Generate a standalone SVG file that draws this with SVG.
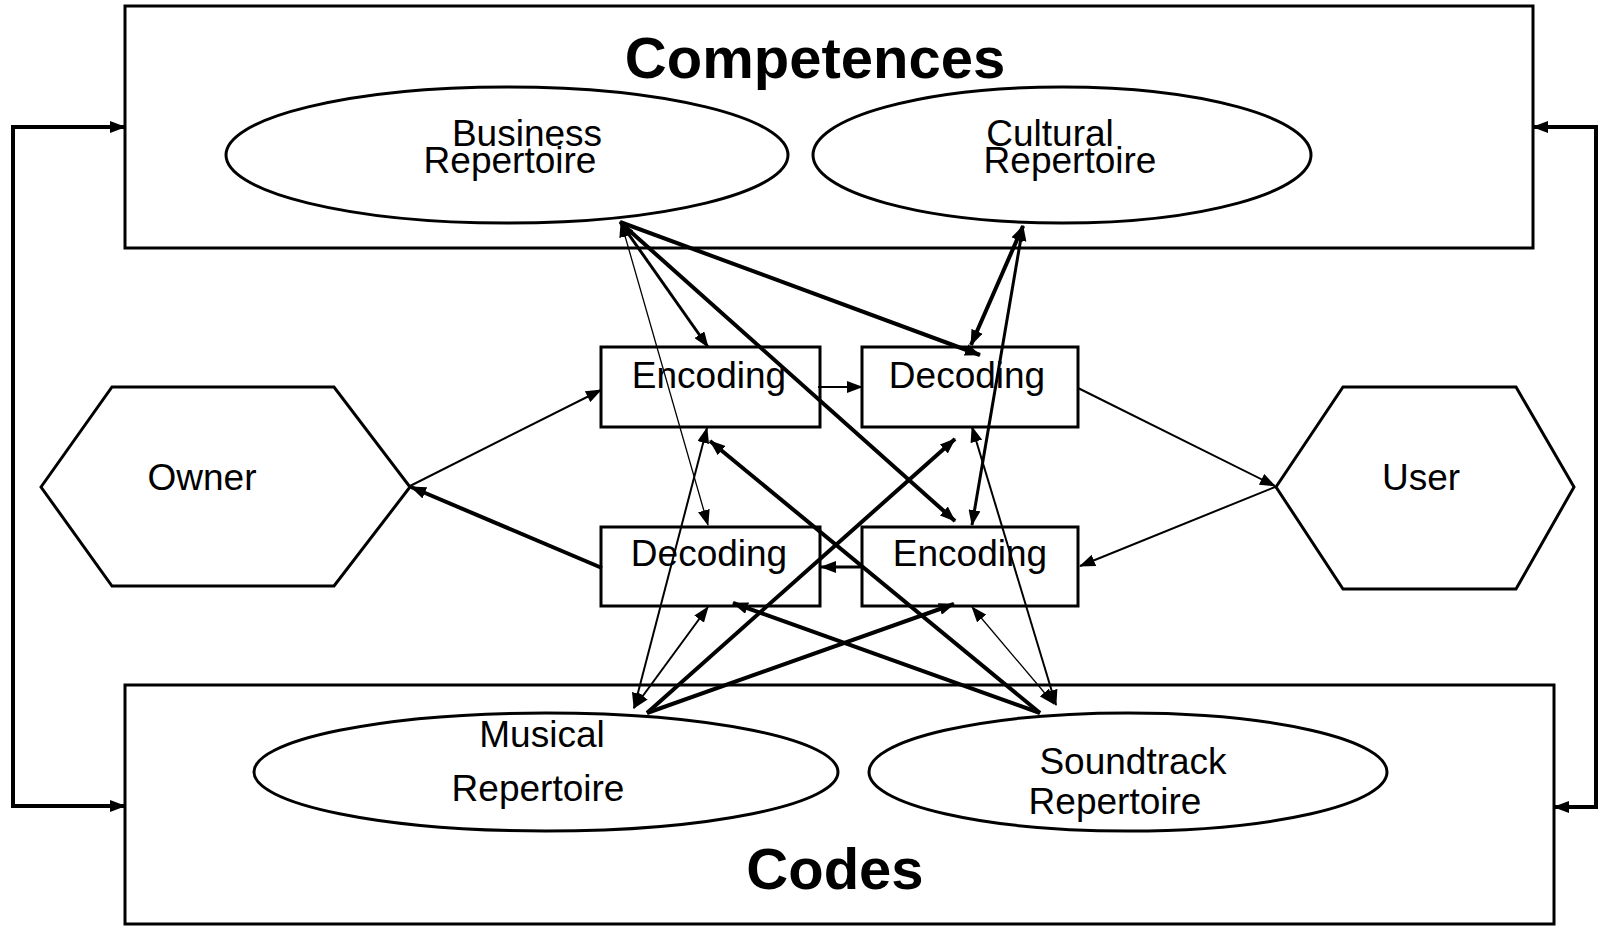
<svg xmlns="http://www.w3.org/2000/svg" width="1598" height="926" viewBox="0 0 1598 926">
<style>
.frame{fill:none;stroke:#000;stroke-width:3}
.ell{fill:#fff;stroke:#000;stroke-width:3}
.box{fill:#fff;stroke:#000;stroke-width:3}
.hex{fill:#fff;stroke:#000;stroke-width:3}
.title{font-family:"Liberation Sans",Arial,sans-serif;font-weight:bold;font-size:58px;text-anchor:middle;fill:#000}
.lbl{font-family:"Liberation Sans",Arial,sans-serif;font-size:37px;text-anchor:middle;fill:#000}
.c{fill:none;stroke:#000}
.w1{stroke-width:1.3}
.w2{stroke-width:2}
.w3{stroke-width:3}
.w4{stroke-width:4}
</style>
<defs>
<marker id="ah" viewBox="0 0 16 12" markerWidth="16" markerHeight="12" refX="15" refY="6" orient="auto-start-reverse" markerUnits="userSpaceOnUse">
<path d="M0,0 L16,6 L0,12 z" fill="#000"/>
</marker>
</defs>
<rect width="1598" height="926" fill="#fff"/>
<g id="competences">
<rect class="frame" x="125" y="6" width="1408" height="242"/>
<text class="title" x="815" y="78">Competences</text>
</g>
<g id="codes">
<rect class="frame" x="125" y="685" width="1429" height="239"/>
<text class="title" x="835" y="889">Codes</text>
</g>
<g id="business">
<ellipse class="ell" cx="507" cy="155" rx="281" ry="68"/>
<text class="lbl" x="527" y="146">Business</text>
<text class="lbl" x="510" y="173">Repertoire</text>
</g>
<g id="cultural">
<ellipse class="ell" cx="1062" cy="155" rx="249" ry="68"/>
<text class="lbl" x="1050" y="146">Cultural</text>
<text class="lbl" x="1070" y="173">Repertoire</text>
</g>
<g id="musical">
<ellipse class="ell" cx="546" cy="772" rx="292" ry="59"/>
<text class="lbl" x="542" y="747">Musical</text>
<text class="lbl" x="538" y="801">Repertoire</text>
</g>
<g id="soundtrack">
<ellipse class="ell" cx="1128" cy="772" rx="259" ry="59"/>
<text class="lbl" x="1133" y="774">Soundtrack</text>
<text class="lbl" x="1115" y="814">Repertoire</text>
</g>
<g id="encoding-owner">
<rect class="box" x="601" y="347" width="219" height="80"/>
<text class="lbl" x="709" y="388">Encoding</text>
</g>
<g id="decoding-user">
<rect class="box" x="862" y="347" width="216" height="80"/>
<text class="lbl" x="967" y="388">Decoding</text>
</g>
<g id="decoding-owner">
<rect class="box" x="601" y="527" width="219" height="79"/>
<text class="lbl" x="709" y="566">Decoding</text>
</g>
<g id="encoding-user">
<rect class="box" x="862" y="527" width="216" height="79"/>
<text class="lbl" x="970" y="566">Encoding</text>
</g>
<g id="owner">
<polygon class="hex" points="41,487 112,387 334,387 410,487 334,586 112,586"/>
<text class="lbl" x="202" y="490">Owner</text>
</g>
<g id="user">
<polygon class="hex" points="1276,487 1343,387 1516,387 1574,487 1516,589 1343,589"/>
<text class="lbl" x="1421" y="490">User</text>
</g>
<g id="connectors">
<path class="c w4" d="M125,127 H13 V806 H125" marker-start="url(#ah)" marker-end="url(#ah)"/>
<path class="c w4" d="M1533,127 H1596 V807 H1554" marker-start="url(#ah)" marker-end="url(#ah)"/>
<line class="c w3" x1="620" y1="222" x2="708" y2="347" marker-start="url(#ah)" marker-end="url(#ah)"/>
<line class="c w4" x1="620" y1="222" x2="980" y2="355" marker-end="url(#ah)"/>
<line class="c w4" x1="622" y1="224" x2="955" y2="521" marker-end="url(#ah)"/>
<line class="c w1" x1="621" y1="222" x2="708" y2="525" marker-start="url(#ah)" marker-end="url(#ah)"/>
<line class="c w2" x1="707" y1="428" x2="634" y2="708" marker-start="url(#ah)" marker-end="url(#ah)"/>
<line class="c w4" x1="1040" y1="713" x2="710" y2="441" marker-end="url(#ah)"/>
<line class="c w4" x1="647" y1="713" x2="955" y2="439" marker-end="url(#ah)"/>
<line class="c w2" x1="972" y1="427" x2="1056" y2="705" marker-start="url(#ah)" marker-end="url(#ah)"/>
<line class="c w3" x1="1023" y1="226" x2="972" y2="525" marker-start="url(#ah)" marker-end="url(#ah)"/>
<line class="c w2" x1="708" y1="607" x2="634" y2="708" marker-start="url(#ah)" marker-end="url(#ah)"/>
<line class="c w4" x1="1040" y1="713" x2="733" y2="603" marker-end="url(#ah)"/>
<line class="c w4" x1="647" y1="713" x2="954" y2="604" marker-end="url(#ah)"/>
<line class="c w1" x1="972" y1="607" x2="1054" y2="704" marker-start="url(#ah)" marker-end="url(#ah)"/>
<line class="c w4" x1="1023" y1="226" x2="971" y2="345" marker-start="url(#ah)" marker-end="url(#ah)"/>
<line class="c w2" x1="818" y1="387" x2="862" y2="387" marker-end="url(#ah)"/>
<line class="c w3" x1="862" y1="567" x2="821" y2="567" marker-end="url(#ah)"/>
<line class="c w2" x1="410" y1="486" x2="601" y2="390" marker-end="url(#ah)"/>
<line class="c w4" x1="602" y1="568" x2="411" y2="487" marker-end="url(#ah)"/>
<line class="c w2" x1="1078" y1="388" x2="1275" y2="486" marker-end="url(#ah)"/>
<line class="c w2" x1="1275" y1="487" x2="1080" y2="566" marker-end="url(#ah)"/>
</g>
</svg>
